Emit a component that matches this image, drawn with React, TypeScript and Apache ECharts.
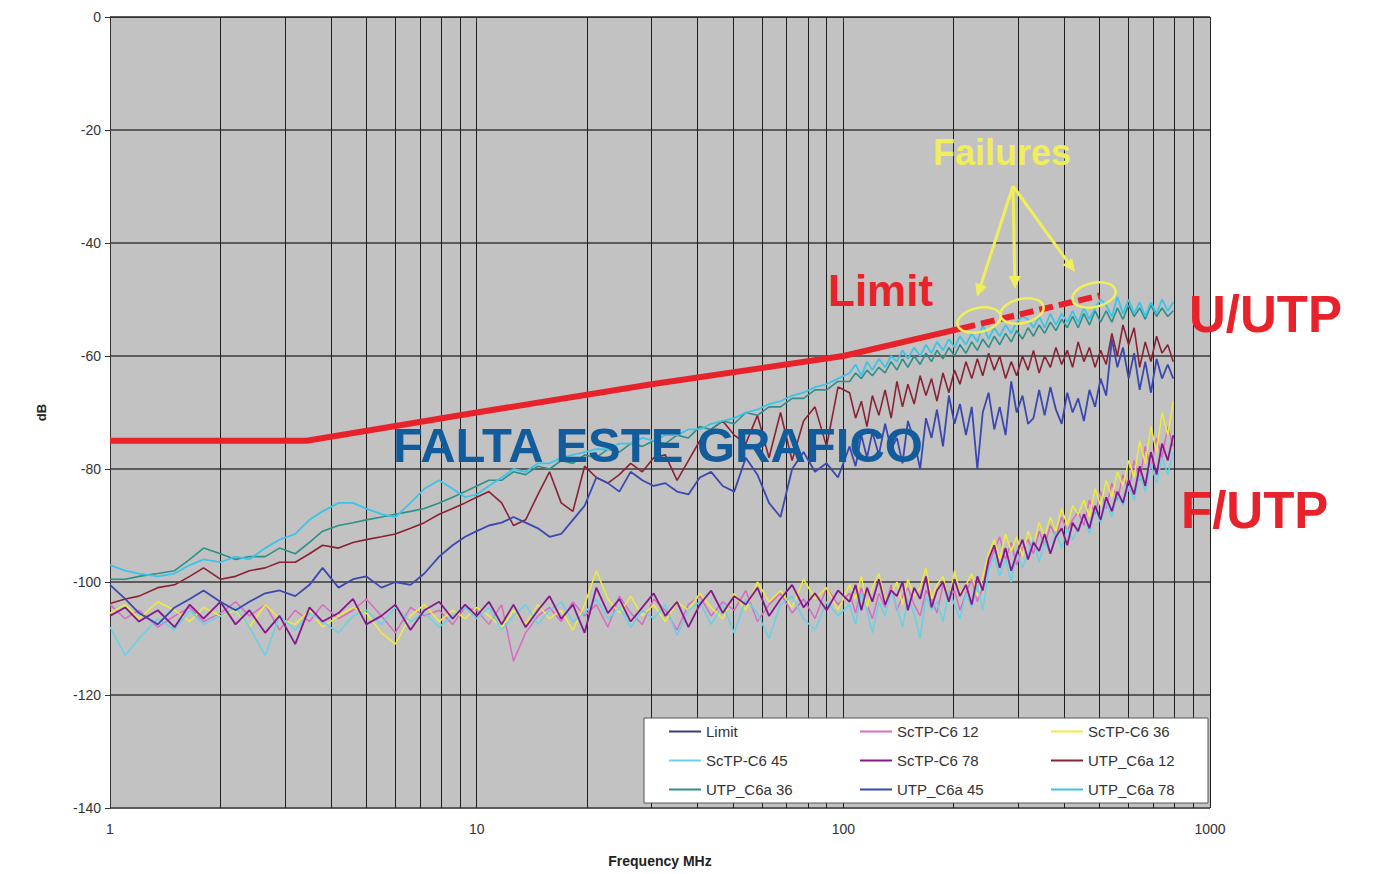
import React, { useEffect, useRef } from "react";
import * as echarts from "echarts";

const FONT = '"Liberation Sans", Arial, Helvetica, sans-serif';

// Frequencies (MHz) shared by all measured traces
const FREQ = [
  1, 1.1, 1.2, 1.35, 1.5, 1.65, 1.8, 2, 2.2, 2.4, 2.65, 2.9, 3.2, 3.5, 3.8, 4.2, 4.6, 5, 5.5, 6, 6.6, 7.2, 7.9, 8.6, 9.3,
  10, 10.8, 11.7, 12.6, 13.6, 14.7, 15.8, 17, 18.3, 19.7, 21.2, 22.8, 24.5, 26.3, 28.3, 30.4, 32.7, 35.2, 37.8, 40.6, 43.6, 46.9, 50.4, 54.2, 58.3, 62.7, 67.4, 72.5, 77.9, 83.7, 90, 96.7,
  104, 108, 112, 116, 120, 125, 130, 135, 140, 145, 150, 156, 162, 168, 174, 180, 187, 194, 201, 208, 216, 224, 232, 240, 249, 258, 267, 277, 287, 297, 308, 319, 330, 342, 354, 367, 380, 394, 408, 422, 437, 453, 469, 486, 503, 521, 540, 559, 579, 600, 621, 643, 666, 690, 715, 740, 767, 794,
];

// Limit line
const LIMIT_FREQ = [1, 3.44, 10, 30, 100, 210, 300, 500];
const LIMIT_DB = [-75, -75, -70, -65, -60, -55.1, -52.7, -49.3];
const LIMIT_DASH_FROM = 5;

const SCTP_12 = [
  -104, -106.5, -105, -108, -106, -104.5, -107, -105.5, -103.5, -106, -104, -108.5, -105, -107, -104, -106.5, -105, -103, -106, -109, -104.5, -106, -105, -107.5, -104.5,
  -105, -107.5, -104, -114, -109, -106, -104.5, -107, -103.5, -106, -104, -108, -102.5, -105.5, -107.5, -103, -105, -108.5, -104, -102.5, -106, -103.5, -105, -101.5, -107, -104, -102, -105.5, -103, -106.5, -101, -104,
  -102, -105.5, -101, -104, -106.5, -102, -104.5, -100.5, -105, -102.5, -101, -104, -106, -101.5, -103, -105.5, -100.5, -103, -101.5, -105, -102, -99.5, -103.5, -101,
  -97, -94.5, -92, -96, -93, -97, -94,
  -92.5, -95, -91, -93.5, -90, -92, -88.5, -91, -89,
  -87.5, -90, -85.5, -88, -84, -87, -82.5, -85.5,
  -81, -84, -78.5, -82, -76, -80, -74.5, -78, -72.5, -76,
];

const SCTP_36 = [
  -105.5, -104, -106.5, -103.5, -105, -107, -104.5, -106, -105, -108, -104, -106.5, -107.5, -105, -108, -106, -104.5, -105.5, -109, -111, -106, -104, -107, -105, -106.5,
  -104.5, -106, -108, -105, -107.5, -104, -106.5, -105, -108.5, -104, -98, -103, -105.5, -102.5, -106, -104, -107, -103.5, -105, -102, -104.5, -106.5, -102, -105, -100, -103.5, -101.5, -104.5, -99.5, -103, -101, -105,
  -100.5, -103, -99, -104.5, -101, -98.5, -103.5, -102, -100, -104, -99.5, -102.5, -101, -97.5, -103, -100.5, -99, -103.5, -98, -102, -100.5, -98.5, -102.5, -99,
  -95, -92.5, -96, -91.5, -94.5, -92, -95.5,
  -91, -93.5, -89.5, -92, -88.5, -91, -87, -90, -86.5,
  -88, -85.5, -88.5, -83.5, -86.5, -82, -85, -80.5,
  -83, -78.5, -81.5, -75, -79, -72.5, -77, -70, -74, -68,
];

const SCTP_45 = [
  -108, -113, -110, -106.5, -108.5, -105, -107.5, -106, -104.5, -108, -113, -106, -108.5, -105.5, -107, -109, -106, -105, -107.5, -104.5, -107, -105.5, -108, -106, -104.5,
  -106.5, -104.5, -108.5, -106, -104, -107.5, -105, -103.5, -107, -105.5, -103, -106.5, -104.5, -108, -105, -106.5, -104, -109.5, -105, -103.5, -107.5, -104, -109, -103, -105.5, -110, -104, -102.5, -106.5, -108.5, -103.5, -106,
  -104, -107.5, -102, -105, -109, -103.5, -106, -101.5, -104.5, -108, -103, -105.5, -110, -102.5, -105, -103.5, -107, -101.5, -104, -106.5, -102, -104.5, -100.5, -105,
  -98, -95.5, -99, -96, -100, -94.5, -97.5,
  -95, -92.5, -96.5, -93, -95, -91, -94, -90.5, -92.5,
  -90.5, -88, -91.5, -87, -89.5, -86, -88.5, -84.5,
  -86.5, -83, -85.5, -81, -84, -79, -82.5, -78, -81, -77,
];

const SCTP_78 = [
  -106, -104.5, -107, -105, -108, -104, -106.5, -103.5, -107.5, -105, -109, -106, -111, -104.5, -107, -105.5, -103, -107.5, -106, -104, -108.5, -105, -103.5, -106.5, -104,
  -106, -103.5, -107.5, -104, -108, -105, -102.5, -106.5, -104, -109, -101, -105.5, -103, -107, -104.5, -102, -106, -103.5, -108, -104, -101.5, -105.5, -102.5, -104, -101, -106, -103, -100.5, -104.5, -102, -105, -101.5,
  -103.5, -100.5, -105, -101, -103.5, -99.5, -104, -101.5, -102.5, -100, -105, -101, -103, -99, -104.5, -101.5, -100, -103.5, -99.5, -102.5, -100.5, -104, -99, -101.5,
  -96, -93.5, -97.5, -94, -98, -95, -92.5,
  -96, -93, -94.5, -91.5, -95, -92, -90.5, -93.5, -89.5,
  -91, -88, -90.5, -86.5, -89, -85, -87.5, -84,
  -86, -82, -84.5, -79.5, -83, -77, -81, -75.5, -78.5, -74,
];

const UTP_12 = [
  -103.8, -103, -102.5, -101, -100.5, -99, -97.5, -99.5, -99, -98, -97.5, -96.5, -96.5, -95, -93.5, -94, -93, -92.5, -92, -91.5, -90.5, -89.5, -88, -87, -86,
  -85, -84, -86, -90, -89, -84.5, -80.5, -86, -87.5, -79.5, -81.5, -82.5, -81, -79, -80.5, -78, -77.5, -82, -78.5, -75, -73, -71.5, -74, -75.5, -70.5, -78, -70, -78.5, -71.5, -69, -76, -65.5,
  -66.5, -71, -68, -72.5, -67, -70.5, -66, -71, -64.5, -69, -65, -68.5, -63.5, -67, -64, -68, -63, -66.5, -62.5, -65,
  -61, -64, -60.5, -63.5, -59.5, -62.5, -60, -64, -61, -63.5, -60, -62.5, -59, -63, -60, -62, -58.5, -61.5, -59, -62,
  -57.5, -61, -58.5, -62, -59, -61.5, -56, -60, -54.5, -58, -55, -62, -57.5, -61, -56.5, -59.5, -58, -61,
];

const UTP_36 = [
  -99.5, -99.5, -99, -98.5, -98, -96, -94, -95, -96, -95.5, -95.5, -94, -95, -93, -91, -90, -89.5, -89, -88.5, -88, -87.5, -87, -86, -85, -84,
  -83, -82, -82, -80.5, -81, -79.5, -80, -78.5, -79, -77.5, -78, -76.5, -77, -75.5, -76, -75, -75.5, -74, -74.5, -72.5, -73, -71.5, -72, -70, -70.5, -69, -69, -67.5, -67.5, -66, -66, -64.5,
  -64.5, -63, -64, -62.5, -63.5, -62, -63, -61, -62.5, -60.5, -62, -60, -61.5, -59.5, -61, -59, -60.5, -58.5, -60, -58,
  -59.5, -57.5, -59, -57, -58.5, -56.5, -58, -56, -57.5, -55.5, -57, -55, -56.5, -54.5, -56, -54, -55.5, -53.5, -55, -53,
  -55, -52.5, -54.5, -52, -54, -52, -54, -51.5, -53.5, -51, -53, -51.5, -53.5, -51, -53, -51.5, -53, -52,
];

const UTP_45 = [
  -100.5, -103, -105.5, -107.5, -104.5, -103, -101.5, -103.5, -105, -103.5, -102, -101.5, -102.5, -100.5, -97.5, -101, -99.5, -99, -101, -100, -100.5, -98.5, -95.5, -93.5, -92,
  -91, -90, -89.5, -88.5, -89.5, -90.5, -92, -91.5, -89, -86.5, -81.5, -82.5, -84, -80.5, -82, -83, -82.5, -84, -84.5, -81.5, -80.5, -83, -84, -78, -81, -86, -88.5, -80, -77, -80.5, -79, -81.5,
  -76, -79.5, -74, -78, -73.5, -77.5, -72, -76.5, -74.5, -79, -71.5, -75, -80, -71, -74.5, -69.5, -76, -67, -72, -68.5,
  -74, -69, -80, -70, -66.5, -73, -69, -74, -64.5, -70, -67, -72, -71, -66, -70.5, -65.5, -69.5, -72, -66.5, -70,
  -67.5, -71.5, -66, -69, -64, -67, -57, -62, -58.5, -64, -59.5, -66, -61, -66.5, -60.5, -64, -61.5, -64,
];

const UTP_78 = [
  -97, -98, -98.5, -99, -98.5, -97, -96, -96.5, -95.5, -96, -94, -92.5, -91.5, -89, -87.5, -86, -86, -87, -88, -88.5, -86, -83.5, -82, -83.5, -85,
  -84.5, -83, -81.5, -80, -80.5, -79, -79, -78, -77.5, -77, -76.5, -76.5, -75.5, -75.5, -74.5, -75, -74, -74, -73, -73, -72, -71.5, -71, -70, -69.5, -68.5, -68, -67, -66.5, -65.5, -65, -64,
  -63, -61.5, -63.5, -61, -62.5, -60.5, -62, -60, -61, -59, -60.5, -58.5, -60, -58, -59.5, -57.5, -59, -57, -58.5, -56.5,
  -58, -56, -57.5, -54.5, -57, -55, -56.5, -54.5, -56, -54, -53, -53.5, -55, -53, -55, -52.5, -54.5, -52.5, -54, -52,
  -54, -51.5, -53.5, -51.5, -50, -51, -53, -49.5, -52.5, -50, -52.5, -50.5, -53, -50.5, -52.5, -50, -52, -50.5,
];

const X_MINOR_GRID = [2, 3, 4, 5, 6, 7, 8, 9, 20, 30, 40, 50, 60, 70, 80, 90, 200, 300, 400, 500, 600, 700, 800, 900];

const TRACES = [
  { name: "ScTP-C6 12", values: SCTP_12, color: "#d86cc0", width: 1.5 },
  { name: "ScTP-C6 36", values: SCTP_36, color: "#eeec3a", width: 1.5 },
  { name: "ScTP-C6 45", values: SCTP_45, color: "#66d2e8", width: 1.5 },
  { name: "ScTP-C6 78", values: SCTP_78, color: "#85198c", width: 1.8 },
  { name: "UTP_C6a 12", values: UTP_12, color: "#8a2233", width: 1.6 },
  { name: "UTP_C6a 36", values: UTP_36, color: "#2e9088", width: 1.6 },
  { name: "UTP_C6a 45", values: UTP_45, color: "#3b48b0", width: 1.8 },
  { name: "UTP_C6a 78", values: UTP_78, color: "#3cc4e8", width: 1.8 },
];

const LEGEND_ORDER = ["Limit", "ScTP-C6 12", "ScTP-C6 36", "ScTP-C6 45", "ScTP-C6 78", "UTP_C6a 12", "UTP_C6a 36", "UTP_C6a 45", "UTP_C6a 78"];

function arrow(x1: number, y1: number, x2: number, y2: number, color: string) {
  const dx = x2 - x1, dy = y2 - y1;
  const len = Math.sqrt(dx * dx + dy * dy);
  const ux = dx / len, uy = dy / len;
  const bx = x2 - 13 * ux, by = y2 - 13 * uy;
  const nx = -uy, ny = ux;
  return [
    { type: "line", z: 20, shape: { x1, y1, x2: bx, y2: by }, style: { stroke: color, lineWidth: 3 } },
    {
      type: "polygon", z: 20,
      shape: { points: [[x2, y2], [bx + 6 * nx, by + 6 * ny], [bx - 6 * nx, by - 6 * ny]] },
      style: { fill: color },
    },
  ];
}

export default function App() {
  const ref = useRef<HTMLDivElement>(null);
  useEffect(() => {
    if (!ref.current) return;
    const chart = echarts.init(ref.current, undefined, { renderer: "svg" });
    const yellow = "#f0ee5a";
    const red = "#e8222b";

    const limitSolid = LIMIT_FREQ.slice(0, LIMIT_DASH_FROM + 1).map((f, i) => [f, LIMIT_DB[i]]);
    const limitDash = LIMIT_FREQ.slice(LIMIT_DASH_FROM).map((f, i) => [f, LIMIT_DB[i + LIMIT_DASH_FROM]]);

    const series: any[] = [
      {
        name: "_grid",
        type: "line",
        data: [],
        silent: true,
        z: 1,
        markLine: {
          silent: true,
          z: 1,
          symbol: ["none", "none"],
          label: { show: false },
          lineStyle: { color: "#1e1e1e", width: 1, type: "solid" },
          data: X_MINOR_GRID.map((f) => ({ xAxis: f })),
        },
      },
      ...TRACES.map((t) => ({
        name: t.name,
        type: "line",
        symbol: "none",
        showSymbol: false,
        z: 2,
        data: FREQ.map((f, i) => [f, t.values[i]]),
        lineStyle: { color: t.color, width: t.width },
        itemStyle: { color: t.color },
      })),
      {
        name: "Limit",
        type: "line",
        symbol: "none",
        showSymbol: false,
        z: 2,
        data: limitSolid,
        lineStyle: { color: red, width: 6 },
        itemStyle: { color: red },
      },
      {
        name: "_limitDash",
        type: "line",
        symbol: "none",
        showSymbol: false,
        z: 2,
        data: limitDash,
        lineStyle: { color: red, width: 6, type: [14, 6], cap: "butt" },
        itemStyle: { color: red },
      },
    ];

    const legendData = LEGEND_ORDER.map((n) =>
      n === "Limit"
        ? { name: n, itemStyle: { color: "#3b3b78", opacity: 0 }, lineStyle: { color: "#3b3b78", width: 2, type: "solid" } }
        : { name: n }
    );

    const option: any = {
      animation: false,
      backgroundColor: "#ffffff",
      textStyle: { fontFamily: FONT },
      grid: {
        left: 110, right: 178, top: 17, bottom: 66,
        show: true, backgroundColor: "#c2c2c2", borderWidth: 0,
      },
      xAxis: {
        type: "log",
        logBase: 10,
        min: 1,
        max: 1000,
        name: "Frequency MHz",
        nameLocation: "middle",
        nameGap: 46,
        nameTextStyle: { fontFamily: FONT, fontSize: 14, fontWeight: "bold", color: "#222" },
        axisLine: { show: true, lineStyle: { color: "#333", width: 1 } },
        axisTick: { show: true, length: 5, lineStyle: { color: "#333" } },
        axisLabel: {
          fontFamily: FONT, fontSize: 14, color: "#333", margin: 14,
          formatter: (v: number) => String(Math.round(v)),
        },
        splitLine: { show: true, lineStyle: { color: "#1e1e1e", width: 1 } },
      },
      yAxis: {
        type: "value",
        min: -140,
        max: 0,
        interval: 20,
        name: "dB",
        nameLocation: "middle",
        nameGap: 62,
        nameTextStyle: { fontFamily: FONT, fontSize: 13, fontWeight: "bold", color: "#222" },
        axisLine: { show: true, lineStyle: { color: "#333", width: 1 } },
        axisTick: { show: true, length: 5, lineStyle: { color: "#333" } },
        axisLabel: { fontFamily: FONT, fontSize: 14, color: "#333", margin: 9 },
        splitLine: { show: true, lineStyle: { color: "#5c5c5c", width: 2 } },
      },
      legend: {
        data: legendData,
        z: 30,
        left: 644,
        top: 722,
        width: 566,
        orient: "horizontal",
        padding: [0, 0, 0, 24],
        itemWidth: 32,
        itemHeight: 14,
        itemGap: 10,
        itemStyle: { opacity: 0 },
        lineStyle: { width: 2 },
        textStyle: { fontFamily: FONT, fontSize: 15, color: "#333", width: 143, lineHeight: 19, overflow: "truncate" },
      },
      graphic: [
        {
          type: "rect", z: 25, silent: true,
          shape: { x: 644, y: 718, width: 564, height: 85 },
          style: { fill: "#ffffff", stroke: "#555555", lineWidth: 1 },
        },
        {
          type: "text", z: 20, x: 828, y: 290,
          style: { text: "Limit", font: `bold 44px ${FONT}`, fill: red, textAlign: "left", textVerticalAlign: "middle" },
        },
        {
          type: "text", z: 20, x: 1189, y: 314,
          style: { text: "U/UTP", font: `bold 51px ${FONT}`, fill: red, textAlign: "left", textVerticalAlign: "middle" },
        },
        {
          type: "text", z: 20, x: 1181, y: 510,
          style: { text: "F/UTP", font: `bold 51px ${FONT}`, fill: red, textAlign: "left", textVerticalAlign: "middle" },
        },
        {
          type: "text", z: 20, x: 933, y: 152,
          style: { text: "Failures", font: `bold 36px ${FONT}`, fill: yellow, textAlign: "left", textVerticalAlign: "middle" },
        },
        {
          type: "text", z: 20, x: 393, y: 445,
          style: { text: "FALTA ESTE GRAFICO", font: `bold 49px ${FONT}`, fill: "#125c9c", textAlign: "left", textVerticalAlign: "middle" },
        },
        ...arrow(1013, 186, 977, 297, yellow),
        ...arrow(1013, 186, 1015, 289, yellow),
        ...arrow(1013, 186, 1075, 272, yellow),
        {
          type: "ellipse", z: 20, x: 979, y: 320, rotation: 0.22,
          shape: { cx: 0, cy: 0, rx: 22, ry: 12 },
          style: { fill: "none", stroke: yellow, lineWidth: 2.5 },
        },
        {
          type: "ellipse", z: 20, x: 1022, y: 311, rotation: 0.22,
          shape: { cx: 0, cy: 0, rx: 22, ry: 12 },
          style: { fill: "none", stroke: yellow, lineWidth: 2.5 },
        },
        {
          type: "ellipse", z: 20, x: 1094, y: 295, rotation: 0.22,
          shape: { cx: 0, cy: 0, rx: 22, ry: 12 },
          style: { fill: "none", stroke: yellow, lineWidth: 2.5 },
        },
      ],
      series,
    };
    chart.setOption(option);
    return () => chart.dispose();
  }, []);

  return (
    <div
      ref={ref}
      style={{ position: "fixed", left: 0, top: 0, width: 1388, height: 874, background: "#fff" }}
    />
  );
}
